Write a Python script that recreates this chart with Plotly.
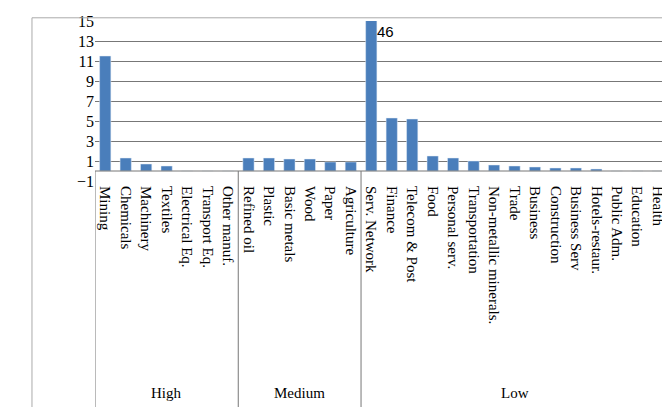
import plotly.graph_objects as go

high = ["Mining", "Chemicals", "Machinery", "Textiles", "Electrical Eq.", "Transport Eq.", "Other manuf."]
high_vals = [11.5, 1.3, 0.7, 0.5, 0, 0, 0]
medium = ["Refined oil", "Plastic", "Basic metals", "Wood", "Paper", "Agriculture"]
medium_vals = [1.3, 1.3, 1.2, 1.2, 0.9, 0.9]
low = ["Serv. Network", "Finance", "Telecom & Post", "Food", "Personal serv.", "Transportation",
       "Non-metallic minerals.", "Trade", "Business", "Construction", "Business Serv",
       "Hotels-restaur.", "Public Adm.", "Education", "Health"]
low_vals = [46, 5.3, 5.2, 1.5, 1.3, 1.0, 0.6, 0.5, 0.4, 0.3, 0.3, 0.2, 0, 0, 0]
groups = ["High", "Medium", "Low"]

cats = high + medium + low
vals = high_vals + medium_vals + low_vals
x = list(range(len(cats)))

fig = go.Figure(go.Bar(x=x, y=vals, marker_color="#4a7ebb", width=0.55))

font = dict(family="Liberation Serif", size=15, color="black")
fig.update_layout(
    width=670, height=407, margin=dict(l=87, r=10, t=13, b=234, autoexpand=False),
    plot_bgcolor="white", paper_bgcolor="white", showlegend=False, font=font,
    xaxis=dict(tickmode="array", tickvals=x, ticktext=cats, tickangle=90,
               range=[-0.5, len(cats) - 0.5], showgrid=False, ticks="", automargin=False,
               ticklabelstandoff=4,
               tickfont=dict(family="Liberation Serif", size=15)),
    yaxis=dict(range=[-1, 15], tickvals=list(range(-1, 16, 2)), showgrid=True,
               gridcolor="#777", gridwidth=1, zeroline=False, ticks="", automargin=False,
               tickformat="d", tickfont=dict(family="Liberation Serif", size=16)),
)

# category box lines
bounds = [-0.5, len(high) - 0.5, len(high) + len(medium) - 0.5, len(cats) - 0.5]
line = dict(color="#777", width=1)
fig.add_shape(type="line", xref="x", yref="y", x0=bounds[0], x1=bounds[-1], y0=0, y1=0, line=line)
for b in bounds:
    fig.add_shape(type="line", xref="x", yref="paper", x0=b, x1=b, y0=-1.45, y1=0.0625, line=line)
for i, g in enumerate(groups):
    fig.add_annotation(x=(bounds[i] + bounds[i + 1]) / 2, y=-1.39, xref="x", yref="paper",
                       text=g, showarrow=False, font=font)
fig.add_annotation(x=len(high) + len(medium), y=15, xref="x", yref="y", text="46",
                   showarrow=False, xanchor="left", yanchor="top", xshift=4,
                   font=dict(family="Liberation Sans", size=15))
# outer frame
fig.add_shape(type="rect", xref="paper", yref="paper", x0=-0.11, x1=1.02, y0=-1.5, y1=1.02,
              line=dict(color="#aaa", width=1))

fig.write_html("out.html")
